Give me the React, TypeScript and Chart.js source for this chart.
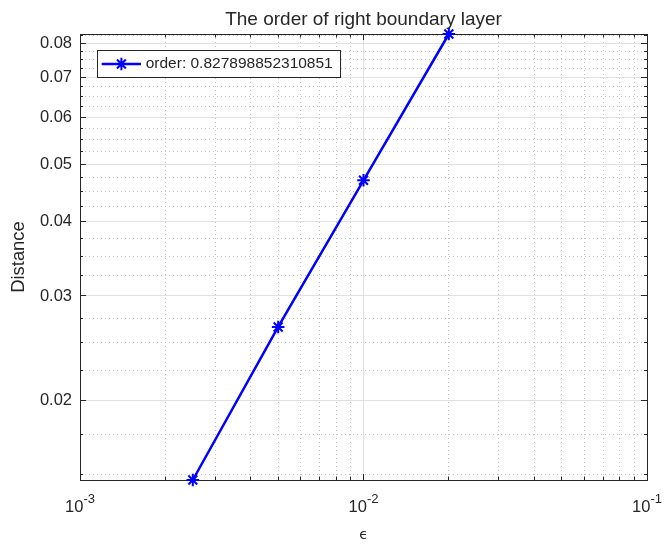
import React, { useEffect, useRef } from 'react';
import { Chart, registerables } from 'chart.js';

Chart.register(...registerables);

// ---- data ----
const epsilons = [0.0025, 0.005, 0.01, 0.02];
const distances = [0.01469, 0.0266, 0.047, 0.0829];
const seriesLabel = 'order: 0.827898852310851';
const chartTitle = 'The order of right boundary layer';
const xAxisTitle = 'ϵ';
const yAxisTitle = 'Distance';
const xMajorTicks = [0.001, 0.01, 0.1];
const xTickBase = '10';
const xTickExponents = ['-3', '-2', '-1'];
const yMajorTicks = [0.02, 0.03, 0.04, 0.05, 0.06, 0.07, 0.08];
const yTickLabels = ['0.02', '0.03', '0.04', '0.05', '0.06', '0.07', '0.08'];
const yMinorStep = 0.0025;

const FONT = '"Liberation Sans", Arial, Helvetica, sans-serif';
const TEXT = '#262626';
const AXIS = '#262626';
const MAJOR_GRID = '#e1e1e1';
const MINOR_GRID = '#c4c4c4';
const BLUE = '#0000ff';

const near = (a: number, b: number) => Math.abs(a - b) <= Math.abs(b) * 1e-6;
const majorIndex = (list: number[], v: number) => list.findIndex((m) => near(v, m));

const xTickValues = (() => {
  const out: number[] = [];
  for (let d = 0; d < xMajorTicks.length; d++) {
    out.push(xMajorTicks[d]);
    if (d < xMajorTicks.length - 1) {
      for (let m = 2; m <= 9; m++) out.push(xMajorTicks[d] * m);
    }
  }
  return out;
})();

const yMin = Math.min(...distances);
const yMax = Math.max(...distances);
const yTickValues = (() => {
  const out: number[] = [];
  const k0 = Math.ceil(yMin / yMinorStep - 1e-9);
  const k1 = Math.floor(yMax / yMinorStep + 1e-9);
  for (let k = k0; k <= k1; k++) out.push(+(k * yMinorStep).toFixed(6));
  return out;
})();

const alignPx = (p: number) => Math.round(p - 0.5) + 0.5;

const boxTicksPlugin = {
  id: 'boxTicks',
  beforeDatasetsDraw(chart: any) {
    const { ctx, chartArea } = chart;
    const { left, right, top, bottom } = chartArea;
    const xs = chart.scales.x;
    const ys = chart.scales.y;
    ctx.save();
    ctx.strokeStyle = AXIS;
    ctx.lineWidth = 1;
    ctx.beginPath();
    xs.ticks.forEach((t: any) => {
      const px = alignPx(xs.getPixelForValue(t.value));
      const len = majorIndex(xMajorTicks, t.value) >= 0 ? 6 : 3.5;
      ctx.moveTo(px, bottom);
      ctx.lineTo(px, bottom - len);
      ctx.moveTo(px, top);
      ctx.lineTo(px, top + len);
    });
    ys.ticks.forEach((t: any) => {
      const py = alignPx(ys.getPixelForValue(t.value));
      const len = majorIndex(yMajorTicks, t.value) >= 0 ? 6 : 3;
      ctx.moveTo(left, py);
      ctx.lineTo(left + len, py);
      ctx.moveTo(right, py);
      ctx.lineTo(right - len, py);
    });
    const ty = alignPx(top);
    const rx = alignPx(right);
    ctx.moveTo(left, ty);
    ctx.lineTo(right + 1, ty);
    ctx.moveTo(rx, top);
    ctx.lineTo(rx, bottom + 1);
    ctx.stroke();
    ctx.restore();
  },
  afterDraw(chart: any) {
    // x tick labels with superscript exponents (10^n), at the scale's own tick positions
    const { ctx, chartArea } = chart;
    const xs = chart.scales.x;
    ctx.save();
    ctx.fillStyle = TEXT;
    ctx.textBaseline = 'alphabetic';
    ctx.textAlign = 'left';
    xMajorTicks.forEach((v, i) => {
      const px = xs.getPixelForValue(v);
      ctx.font = `16.5px ${FONT}`;
      const wb = ctx.measureText(xTickBase).width;
      ctx.font = `13px ${FONT}`;
      const we = ctx.measureText(xTickExponents[i]).width;
      const x0 = px - (wb + we) / 2;
      const baseY = chartArea.bottom + 32;
      ctx.font = `16.5px ${FONT}`;
      ctx.fillText(xTickBase, x0, baseY);
      ctx.font = `13px ${FONT}`;
      ctx.fillText(xTickExponents[i], x0 + wb, baseY - 8.7);
    });
    ctx.restore();
  },
};

const legendBoxPlugin = {
  id: 'legendBox',
  afterDatasetsDraw(chart: any) {
    const ds = chart.data.datasets[0];
    const { ctx, chartArea } = chart;
    ctx.save();
    ctx.font = `15.5px ${FONT}`;
    const tw = ctx.measureText(ds.label).width;
    const bx = Math.round(chartArea.left + 17);
    const by = Math.round(chartArea.top + 16);
    const bw = Math.round(48.7 + tw + 7.7);
    const bh = 28;
    ctx.fillStyle = '#ffffff';
    ctx.fillRect(bx, by, bw, bh);
    ctx.strokeStyle = AXIS;
    ctx.lineWidth = 1;
    ctx.strokeRect(bx + 0.5, by + 0.5, bw, bh - 1);
    const cy = by + bh / 2;
    ctx.strokeStyle = ds.borderColor;
    ctx.lineWidth = ds.borderWidth;
    ctx.beginPath();
    ctx.moveTo(bx + 4.7, cy);
    ctx.lineTo(bx + 44, cy);
    ctx.stroke();
    const cx = bx + 24.4;
    const r = ds.pointRadius;
    ctx.lineWidth = ds.pointBorderWidth;
    ctx.beginPath();
    for (let i = 0; i < 4; i++) {
      const a = (i * Math.PI) / 4;
      ctx.moveTo(cx - Math.cos(a) * r, cy - Math.sin(a) * r);
      ctx.lineTo(cx + Math.cos(a) * r, cy + Math.sin(a) * r);
    }
    ctx.stroke();
    ctx.fillStyle = TEXT;
    ctx.textAlign = 'left';
    ctx.textBaseline = 'middle';
    ctx.fillText(ds.label, bx + 48.7, cy);
    ctx.restore();
  },
};

export default function App() {
  const ref = useRef<HTMLCanvasElement | null>(null);

  useEffect(() => {
    if (!ref.current) return;
    Chart.defaults.font.family = FONT;
    const chart = new Chart(ref.current, {
      type: 'line',
      data: {
        datasets: [
          {
            label: seriesLabel,
            data: epsilons.map((e, i) => ({ x: e, y: distances[i] })),
            borderColor: BLUE,
            backgroundColor: BLUE,
            borderWidth: 2.5,
            pointStyle: 'star',
            pointRadius: 6.3,
            pointBorderWidth: 2,
            pointBorderColor: BLUE,
            pointBackgroundColor: BLUE,
            tension: 0,
            fill: false,
            clip: false as any,
          } as any,
        ],
      },
      options: {
        animation: false,
        responsive: false,
        maintainAspectRatio: false,
        layout: { padding: { left: 0, right: 17, top: 0, bottom: 0 } },
        plugins: {
          legend: { display: false },
          tooltip: { enabled: false },
          title: {
            display: true,
            text: chartTitle,
            fullSize: false,
            color: TEXT,
            font: { family: FONT, size: 19, weight: 'normal' as any },
            padding: { top: 7.9, bottom: 3.3 },
          },
        },
        scales: {
          x: {
            type: 'logarithmic',
            position: 'bottom',
            min: xMajorTicks[0],
            max: xMajorTicks[xMajorTicks.length - 1],
            bounds: 'data',
            afterBuildTicks: (scale: any) => {
              scale.ticks = xTickValues.map((v) => ({ value: v }));
            },
            afterFit: (scale: any) => {
              scale.height = 65;
              scale.paddingLeft = 0;
              scale.paddingRight = 0;
            },
            grid: {
              drawTicks: false,
              lineWidth: 1,
              color: (c: any) =>
                c.tick && majorIndex(xMajorTicks, c.tick.value) >= 0 ? MAJOR_GRID : MINOR_GRID,
            },
            border: {
              display: true,
              color: AXIS,
              width: 1,
              dash: (c: any) =>
                c.tick && majorIndex(xMajorTicks, c.tick.value) < 0 ? [1, 3] : [],
            },
            ticks: {
              autoSkip: false,
              maxRotation: 0,
              padding: 16,
              color: TEXT,
              font: { family: FONT, size: 16.5 },
              callback: () => '',
            },
            title: {
              display: true,
              text: xAxisTitle,
              color: TEXT,
              font: { family: '"DejaVu Sans", ' + FONT, size: 14 },
              padding: { top: 0, bottom: 1 },
            },
          },
          y: {
            type: 'logarithmic',
            position: 'left',
            min: yMin,
            max: yMax,
            bounds: 'data',
            afterBuildTicks: (scale: any) => {
              scale.ticks = yTickValues.map((v) => ({ value: v }));
            },
            afterFit: (scale: any) => {
              scale.width = 80;
              scale.paddingTop = 0;
              scale.paddingBottom = 0;
            },
            grid: {
              drawTicks: false,
              lineWidth: 1,
              color: (c: any) =>
                c.tick && majorIndex(yMajorTicks, c.tick.value) >= 0 ? MAJOR_GRID : MINOR_GRID,
            },
            border: {
              display: true,
              color: AXIS,
              width: 1,
              dash: (c: any) =>
                c.tick && majorIndex(yMajorTicks, c.tick.value) < 0 ? [1, 3] : [],
            },
            ticks: {
              autoSkip: false,
              padding: 8,
              color: TEXT,
              font: { family: FONT, size: 16.5 },
              callback: (v: any) => {
                const i = majorIndex(yMajorTicks, Number(v));
                return i >= 0 ? yTickLabels[i] : '';
              },
            },
            title: {
              display: true,
              text: yAxisTitle,
              color: TEXT,
              font: { family: FONT, size: 18.4 },
              padding: { top: 8.2, bottom: 0 },
            },
          },
        },
      } as any,
      plugins: [boxTicksPlugin, legendBoxPlugin],
    });
    return () => chart.destroy();
  }, []);

  return (
    <div style={{ position: 'absolute', left: 0, top: 0, width: 664, height: 545, background: '#fff' }}>
      <canvas ref={ref} width={664} height={545} style={{ display: 'block' }} />
    </div>
  );
}
